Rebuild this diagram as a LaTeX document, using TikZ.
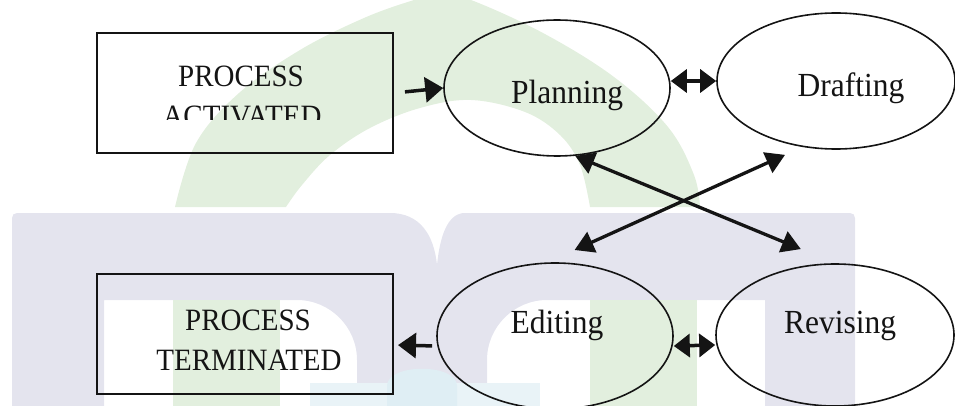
\documentclass[tikz,border=0pt]{standalone}
\usepackage{fontspec}
\setmainfont{Liberation Serif}
\usetikzlibrary{shapes.geometric,arrows.meta}

\definecolor{wmgreen}{RGB}{226,239,222}
\definecolor{wmlav}{RGB}{228,228,238}
\definecolor{wmteal}{RGB}{233,243,247}
\definecolor{wmdome}{RGB}{223,238,244}
\definecolor{ink}{RGB}{20,20,20}

\newcommand{\tallstretch}[1]{\scalebox{1}[1.07]{#1}}

\tikzset{
  stage/.style={draw=ink, line width=1.6pt, ellipse, inner sep=0pt},
  endbox/.style={draw=ink, line width=2pt, rectangle, inner sep=0pt,
    minimum width=296pt, minimum height=120pt},
  bigtxt/.style={anchor=base, inner sep=0pt, text=ink,
    font=\fontsize{31.5}{36}\selectfont},
  boxtxt/.style={anchor=base, inner sep=0pt, text=ink,
    font=\fontsize{29}{36}\selectfont},
  flow/.style={draw=ink, line width=3.5pt, -{Triangle[length=18pt,width=25pt]}},
  twoway/.style={draw=ink, line width=3.5pt,
    {Triangle[length=16pt,width=23pt]}-{Triangle[length=16pt,width=23pt]}},
  cross/.style={draw=ink, line width=3.3pt,
    {Triangle[length=19pt,width=22pt]}-{Triangle[length=19pt,width=22pt]}},
}

\begin{document}
\begin{tikzpicture}[x=1pt, y=-1pt]
\useasboundingbox (0,0) rectangle (955,406);

% faint background emblem
\begin{scope}
  \clip (0,0) rectangle (955,406);
  % green arch
  \fill[wmgreen] plot[smooth, tension=0.6] coordinates {
      (175,207) (196,143) (239,93) (300,50) (364,18) (414,0) (440,-6)
      (471,0) (543,33) (614,77) (668,127) (694,175) (700,207)}
    -- plot[smooth, tension=0.6] coordinates {
      (590,207) (580,165) (560,135) (525,112) (471,100)
      (420,108) (370,128) (330,155) (302,185) (286,207)}
    -- cycle;
  % lavender letter with its two counters
  \fill[wmlav, even odd rule]
    (12,406) -- (12,218) .. controls (12,215) and (14,213) .. (17,213)
      -- (390,213)
      .. controls (420,213) and (434,235) .. (437,265)
      .. controls (440,235) and (448,213) .. (465,213)
      -- (850,213) .. controls (853,213) and (855,215) .. (855,218)
      -- (855,406) -- cycle
    (104,406) -- (104,300) -- (297,300)
      .. controls (330,300) and (357,327) .. (357,360) -- (357,406) -- cycle
    (487,406) -- (487,360)
      .. controls (487,327) and (514,300) .. (547,300)
      -- (765,300) -- (765,406) -- cycle;
  % green strips inside the counters
  \fill[wmgreen] (173,300) rectangle (280,406);
  \fill[wmgreen] (590,300) rectangle (697,406);
  % pale base band and dome
  \fill[wmteal] (310,383) rectangle (540,406);
  \fill[wmdome] (387,406) -- (387,386)
    .. controls (387,363) and (457,363) .. (457,386) -- (457,406) -- cycle;
\end{scope}

% start and end boxes
\node[endbox] (act)  at (245,93)  {};
\node[endbox] (term) at (245,334) {};

\begin{scope}
  \clip (97,33) rectangle (393,120);
  \node[boxtxt] (act-l1) at (241,87)  {\tallstretch{PROCESS}};
  \node[boxtxt] (act-l2) at (242,127) {\tallstretch{ACTIVATED}};
\end{scope}
\node[boxtxt] (term-l1) at (248,330) {\tallstretch{PROCESS}};
\node[boxtxt] (term-l2) at (249,370) {\tallstretch{TERMINATED}};

% writing stages
\node[stage, minimum width=226pt, minimum height=136pt] (plan)  at (557,88)  {};
\node[stage, minimum width=238pt, minimum height=136pt] (draft) at (836,81)  {};
\node[stage, minimum width=236pt, minimum height=146pt] (edit)  at (555,336) {};
\node[stage, minimum width=238pt, minimum height=142pt] (rev)   at (835,335) {};

\node[bigtxt] (plan-t)  at (567,104) {\tallstretch{Planning}};
\node[bigtxt] (draft-t) at (851,97)  {\tallstretch{Drafting}};
\node[bigtxt] (edit-t)  at (557,333) {\tallstretch{Editing}};
\node[bigtxt] (rev-t)   at (840,333) {\tallstretch{Revising}};

% connectors
\draw[flow, shorten <=11pt] (act.east) -- (plan.west);
\draw[twoway] (plan.east |- draft.west) -- (draft.west);
\draw[cross, shorten >=37pt] (plan.-75) -- (rev.north);
\draw[cross, shorten <=19pt, shorten >=30pt] (draft.-117.6) -- (edit.96);
\draw[twoway] ([yshift=-10pt]edit.east) -- ([yshift=-10pt]rev.west);
\draw[flow, shorten <=4pt, shorten >=4pt] ([yshift=-10pt]edit.west) -- ([yshift=-11pt]term.east);
\end{tikzpicture}
\end{document}
